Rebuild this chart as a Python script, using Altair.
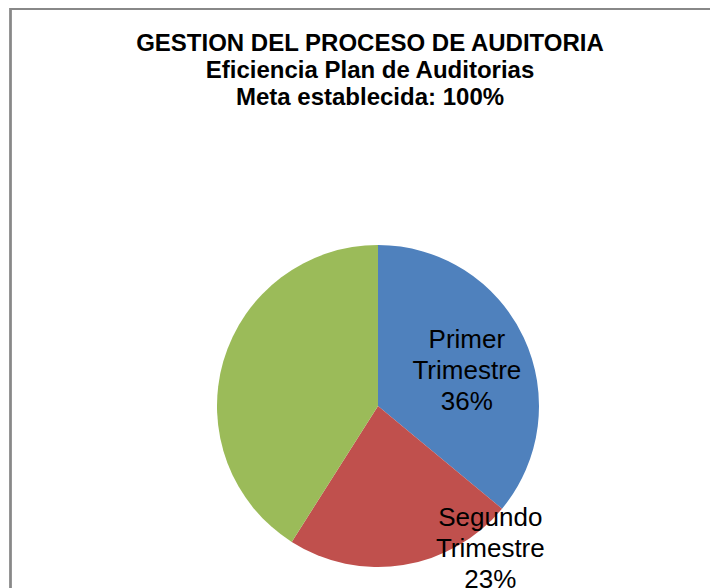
import altair as alt
import pandas as pd

categories = ["Primer Trimestre", "Segundo Trimestre", "Tercer Trimestre"]
values = [36, 23, 41]
label_lines = ["Primer\nTrimestre\n36%", "Segundo\nTrimestre\n23%", ""]
colors = ["#4F81BD", "#C0504D", "#9BBB59"]
title_lines = ["GESTION DEL PROCESO DE AUDITORIA", "Eficiencia Plan de Auditorias", "Meta establecida: 100%"]

df = pd.DataFrame({"trimestre": categories, "valor": values, "etiqueta": label_lines})
title_df = pd.DataFrame({"titulo": ["\n".join(title_lines)]})

CX, CY = 370, 288
R = 161

pie = alt.Chart(df).mark_arc(outerRadius=R, x=CX, y=CY).encode(
    theta=alt.Theta("valor:Q", stack=True),
    color=alt.Color("trimestre:N", scale=alt.Scale(domain=categories, range=colors), legend=None),
    order=alt.Order("trimestre:N"),
)

lab_base = alt.Chart(df).transform_window(
    fin="sum(valor)", sort=[alt.SortField("trimestre")], frame=[None, 0]
).transform_joinaggregate(total="sum(valor)").transform_calculate(
    medio="(datum.fin - datum.valor / 2) / datum.total"
)


def label_layer(cat, radius, dx, dy):
    return lab_base.transform_filter(alt.datum.trimestre == cat).mark_text(
        radius=radius, x=CX, y=CY, font="Liberation Sans", fontSize=26, lineHeight=31,
        lineBreak="\n", color="black", align="center", baseline="middle", dx=dx, dy=dy,
    ).encode(
        theta=alt.Theta("medio:Q", scale=alt.Scale(domain=[0, 1], range=[0, 6.283185307])),
        text="etiqueta:N",
    )


lab1 = label_layer(categories[0], 96, 2, -25)
lab2 = label_layer(categories[1], 181, 84, -67)
labels = alt.layer(lab1, lab2)

title = alt.Chart(title_df).mark_text(
    font="Liberation Sans", fontSize=24, fontWeight="bold", lineHeight=27,
    lineBreak="\n", color="black", align="center", baseline="alphabetic",
).encode(x=alt.value(362), y=alt.value(-67), text="titulo:N")

frame_top = alt.Chart(df).mark_rule(color="#888888", strokeWidth=2).encode(
    x=alt.value(2), x2=alt.value(712), y=alt.value(-109)
)
frame_left = alt.Chart(df).mark_rule(color="#888888", strokeWidth=2).encode(
    x=alt.value(2.5), y=alt.value(-110), y2=alt.value(480)
)

chart = alt.layer(frame_top, frame_left, title, pie, labels).resolve_scale(
    theta="independent"
).properties(
    width=702,
    height=470,
    padding={"left": 0, "top": 110, "right": 0, "bottom": 0},
    autosize=alt.AutoSizeParams(type="none"),
).configure_view(stroke=None)

chart.save("out.html", embed_options={"renderer": "svg", "actions": False})
